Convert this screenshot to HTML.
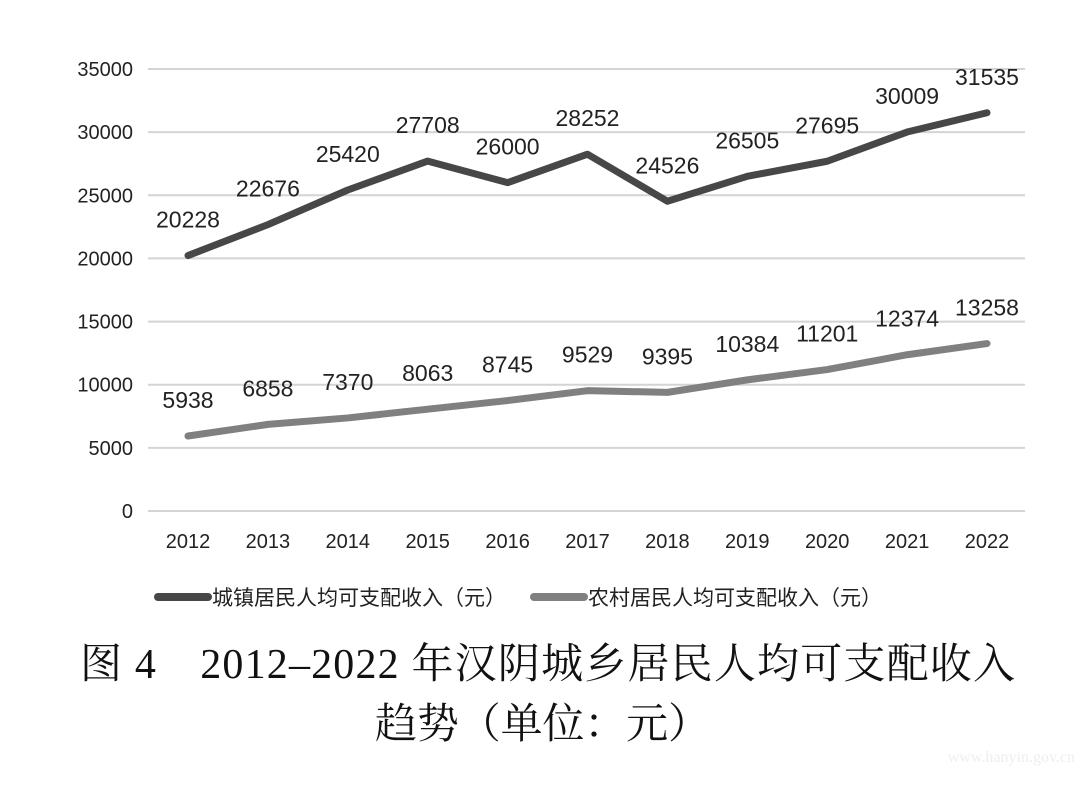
<!DOCTYPE html>
<html><head><meta charset="utf-8"><style>
html,body{margin:0;padding:0;background:#fff;}
svg text{font-family:"Liberation Sans","Noto Sans CJK SC",sans-serif;}
</style></head><body>
<svg id="c" width="1092" height="785" xmlns="http://www.w3.org/2000/svg">
<g id="grid"></g><g id="lines"></g><g id="labels"></g>
<g>
<line x1="158" y1="597" x2="208" y2="597" stroke="#474747" stroke-width="8" stroke-linecap="round"/>
<text x="212" y="605" font-size="21" fill="#222">城镇居民人均可支配收入（元）</text>
<line x1="534" y1="597" x2="584" y2="597" stroke="#808080" stroke-width="8" stroke-linecap="round"/>
<text x="588" y="605" font-size="21" fill="#222">农村居民人均可支配收入（元）</text>
</g>
<text x="80" y="678" font-size="42" fill="#111" textLength="935" lengthAdjust="spacing" style="font-family:'Liberation Serif','Noto Serif CJK SC',serif">图 4　2012–2022 年汉阴城乡居民人均可支配收入</text>
<text x="375" y="738" font-size="42" fill="#111" textLength="335" lengthAdjust="spacing" style="font-family:'Liberation Serif','Noto Serif CJK SC',serif">趋势（单位：元）</text>
<text x="1075" y="762" text-anchor="end" font-size="16" fill="#eee" style="font-family:'Liberation Serif',serif">www.hanyin.gov.cn</text>
</svg>
<script>
const years=["2012","2013","2014","2015","2016","2017","2018","2019","2020","2021","2022"];
const urban=[20228,22676,25420,27708,26000,28252,24526,26505,27695,30009,31535];
const rural=[5938,6858,7370,8063,8745,9529,9395,10384,11201,12374,13258];
const yTicks=[0,5000,10000,15000,20000,25000,30000,35000];
const NS="http://www.w3.org/2000/svg";
const x=i=>188+i*79.9;
const y=v=>511-v*(442/35000);
function mk(t,a,p){const e=document.createElementNS(NS,t);for(const k in a)e.setAttribute(k,a[k]);p.appendChild(e);return e;}
const grid=document.getElementById('grid'),lines=document.getElementById('lines'),labels=document.getElementById('labels');
yTicks.forEach(v=>{
 const l=mk('line',{x1:148,x2:1025,y1:y(v),y2:y(v),stroke:'#d4d4d4','stroke-width':2},grid);
 
 
 const t=mk('text',{x:133,y:y(v)+7,'text-anchor':'end','font-size':20,fill:'#222'},grid);
 t.textContent=v;
 
 
});
years.forEach((yr,i)=>{
 const t=mk('text',{x:x(i),y:548,'text-anchor':'middle','font-size':20,fill:'#222'},grid);
 t.textContent=yr;
 
 
});
function series(vals,color,name){
 const p=mk('polyline',{points:vals.map((v,i)=>x(i)+','+y(v)).join(' '),fill:'none',stroke:color,'stroke-width':7,'stroke-linejoin':'round','stroke-linecap':'round'},lines);
 
 
 vals.forEach((v,i)=>{
  const t=mk('text',{x:x(i),y:y(v)-28,'text-anchor':'middle','font-size':23,fill:'#222'},labels);
  t.textContent=v;
  
  
 });
}
series(urban,'#474747','urban');
series(rural,'#808080','rural');
</script>
</body></html>
